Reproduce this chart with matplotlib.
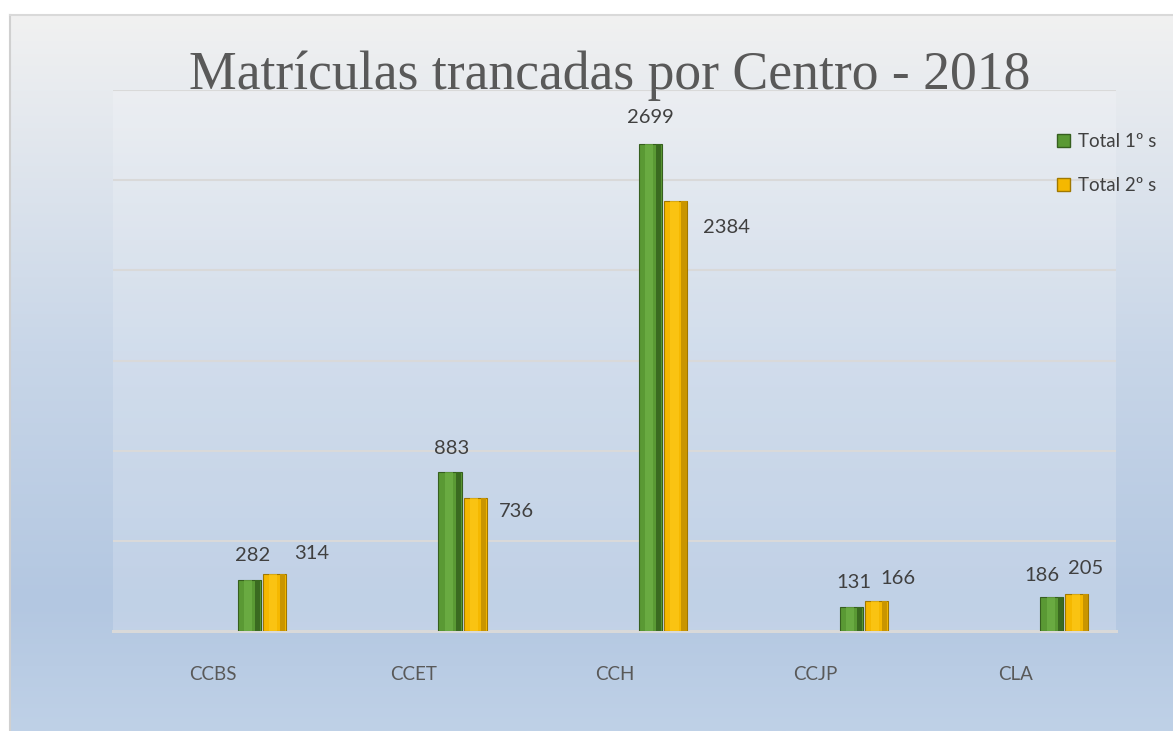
import numpy as np
import matplotlib
matplotlib.use("Agg")
import matplotlib.pyplot as plt
from matplotlib.colors import LinearSegmentedColormap
from matplotlib.patches import Patch

categories = ["CCBS", "CCET", "CCH", "CCJP", "CLA"]
total_1s = [282, 883, 2699, 131, 186]
total_2s = [314, 736, 2384, 166, 205]
series_names = ["Total 1º s", "Total 2º s"]
title = "Matrículas trancadas por Centro - 2018"

# label offsets in pixels (dx, dy) as placed in the reference
off_1s = [(3, 25), (2, 23), (0, 27), (3, 25), (-10, 22)]
off_2s = [(37, 21), (41, -13), (51, -26), (22, 23), (9, 26)]

W, H = 1173, 731
fig = plt.figure(figsize=(W / 100, H / 100), dpi=100)
fig.patch.set_facecolor("white")

# background gradient (chart area)
bg = fig.add_axes([10 / W, 0, 1 - 10 / W, (H - 15) / H])
bg.set_axis_off()
cmap = LinearSegmentedColormap.from_list(
    "bg", [(0, "#f1f1f1"), (0.47, "#c8d6e8"), (0.82, "#b3c7e1"), (1.0, "#bfd1e7")])
grad = np.linspace(0, 1, 256).reshape(-1, 1)
bg.imshow(grad, aspect="auto", cmap=cmap, extent=[0, 1, 1, 0])
bg.set_xlim(0, 1)
bg.set_ylim(1, 0)
fig.add_artist(plt.Line2D([10 / W, 10 / W], [0, (H - 15) / H], color="#d0d0d0", lw=1.5,
                          transform=fig.transFigure))
fig.add_artist(plt.Line2D([10 / W, 1], [(H - 15) / H, (H - 15) / H], color="#d9d9d9", lw=1.5,
                          transform=fig.transFigure))

# plot area
left, right, top, bottom = 113, 1116, 90, 631
ax = fig.add_axes([left / W, (H - bottom) / H, (right - left) / W, (bottom - top) / H])
ax.set_facecolor((1, 1, 1, 0.18))
ax.set_xlim(-0.5, len(categories) - 0.5)
ax.set_ylim(0, 3000)
ax.set_yticks(np.arange(0, 3001, 500))
ax.yaxis.grid(True, color="#d9d9d9", lw=1.5)
ax.set_axisbelow(True)
for s in ["left", "right", "top"]:
    ax.spines[s].set_visible(False)
ax.spines["bottom"].set_color("#d9d9d9")
ax.spines["bottom"].set_linewidth(2.2)
ax.tick_params(axis="y", length=0, labelleft=False)
ax.tick_params(axis="x", length=0, pad=25)
x = np.arange(len(categories))
ax.set_xticks(x)
ax.set_xticklabels(categories, fontsize=13.5, color="#595959", family="Lato")

bw = 0.115
xg = x + 0.18
xy = x + 0.305

def bevel_bars(xs, vals, face, dark, light, edge):
    ax.bar(xs, vals, width=bw, color=face, edgecolor=edge, linewidth=0.8, zorder=3)
    ax.bar(xs + bw * 0.36, vals, width=bw * 0.22, color=dark, linewidth=0, zorder=4)
    ax.bar(xs - bw * 0.05, vals, width=bw * 0.35, color=light, linewidth=0, zorder=4, alpha=0.6)

bevel_bars(xg, total_1s, "#5a9934", "#3a6a20", "#74b64b", "#365f1f")
bevel_bars(xy, total_2s, "#f5b800", "#c99500", "#ffcb1f", "#a07800")

for xi, v, (dx, dy) in zip(xg, total_1s, off_1s):
    ax.annotate(f"{v}", (xi, v), xytext=(dx, dy), textcoords="offset pixels",
                ha="center", va="center", fontsize=14.5, color="#404040", family="Lato",
                annotation_clip=False)
for xi, v, (dx, dy) in zip(xy, total_2s, off_2s):
    ax.annotate(f"{v}", (xi, v), xytext=(dx, dy), textcoords="offset pixels",
                ha="center", va="center", fontsize=14.5, color="#404040", family="Lato",
                annotation_clip=False)

handles = [Patch(facecolor="#5a9934", edgecolor="#365f1f"),
           Patch(facecolor="#f5b800", edgecolor="#a07800")]
fig.legend(handles, series_names, loc="upper left", bbox_to_anchor=(1040 / W, 1 - 116 / H),
           frameon=False, handlelength=0.7, handleheight=0.7,
           handletextpad=0.45, labelspacing=1.45, prop={"family": "Lato", "size": 13.5},
           labelcolor="#404040")

# title, sized to the reference width
t = fig.text(610 / W, 1 - 89 / H, title, ha="center", va="baseline",
             family="Liberation Serif", fontsize=40, color="#595959")
fig.canvas.draw()
wpx = t.get_window_extent().width
t.set_fontsize(40 * 840 / wpx)

fig.savefig("out.png", dpi=100)
